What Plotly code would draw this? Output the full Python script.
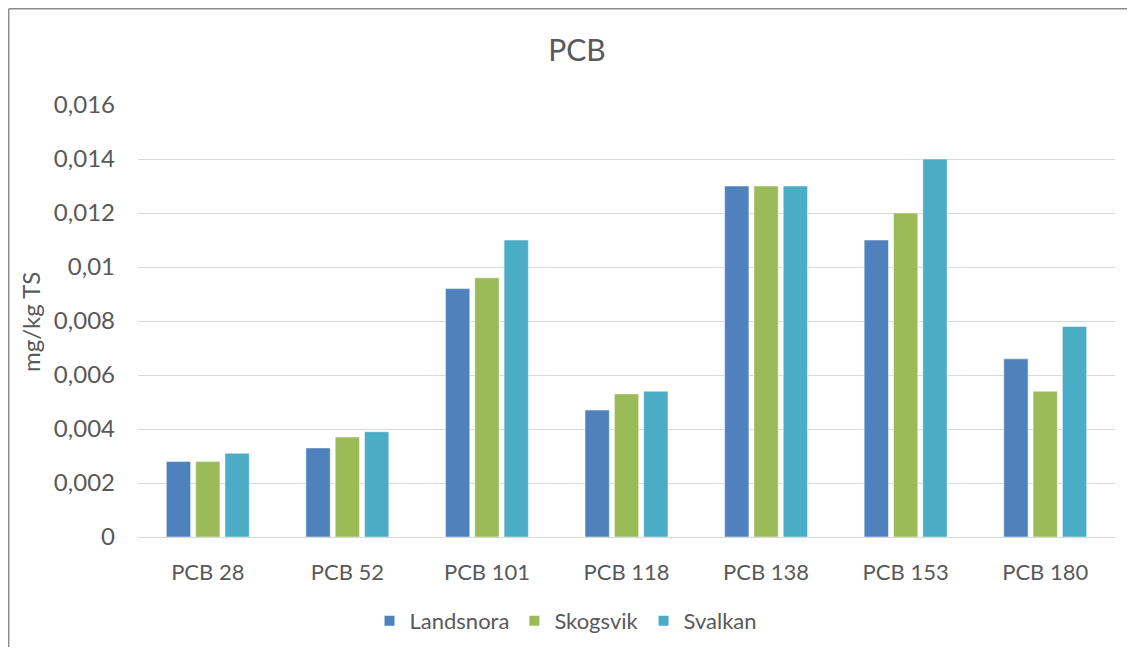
import plotly.graph_objects as go

categories = ["PCB 28", "PCB 52", "PCB 101", "PCB 118", "PCB 138", "PCB 153", "PCB 180"]
landsnora = [0.0028, 0.0033, 0.0092, 0.0047, 0.013, 0.011, 0.0066]
skogsvik = [0.0028, 0.0037, 0.0096, 0.0053, 0.013, 0.012, 0.0054]
svalkan = [0.0031, 0.0039, 0.011, 0.0054, 0.013, 0.014, 0.0078]
series_names = ["Landsnora", "Skogsvik", "Svalkan"]
colors = ["#4F81BD", "#9BBB59", "#4BACC6"]
ytick_vals = [0, 0.002, 0.004, 0.006, 0.008, 0.01, 0.012, 0.014, 0.016]
ytick_text = ["0", "0,002", "0,004", "0,006", "0,008", "0,01", "0,012", "0,014", "0,016"]

FONT = "Lato, Open Sans, sans-serif"
TXT = "#595959"

fig = go.Figure()
for name, vals, col in zip(series_names, [landsnora, skogsvik, svalkan], colors):
    fig.add_trace(go.Bar(x=categories, y=vals, name=name, marker=dict(color=col, line=dict(color="white", width=0.5))))

OFF = 8  # page body margin
W, H = 1135 - 2 * OFF, 655 - 2 * OFF
L, T = 138 - OFF, 105 - OFF
pw, ph = 977, 432
R = W - L - pw
B = H - T - ph

def px(x):
    return (x - OFF - L) / pw

def py(y):
    return (T + ph - (y - OFF)) / ph

fig.update_layout(
    width=W, height=H,
    margin=dict(l=L, r=R, t=T, b=B, autoexpand=False),
    paper_bgcolor="white", plot_bgcolor="white",
    barmode="group", bargap=0.37, bargroupgap=0.17,
    font=dict(family=FONT, color=TXT),
    title=dict(text="PCB", x=(577 - OFF) / W, xref="container", xanchor="center", y=1 - (50 - OFF) / H,
               yref="container", yanchor="middle", font=dict(size=30, color=TXT, family=FONT)),
    legend=dict(orientation="h", x=(566 - OFF) / W, xref="container", xanchor="center",
                y=1 - (621 - OFF) / H, yref="container", yanchor="middle",
                font=dict(size=22, color=TXT, family=FONT), itemsizing="constant", traceorder="normal"),
    xaxis=dict(showgrid=False, showline=False, ticks="", tickfont=dict(size=22, color=TXT, family=FONT), ticklabelstandoff=20),
    yaxis=dict(range=[0, 0.016], tickvals=ytick_vals, ticktext=ytick_text, gridcolor="#D9D9D9", gridwidth=1,
               zeroline=True, zerolinecolor="#D9D9D9", zerolinewidth=1, showline=False,
               tickfont=dict(size=24, color=TXT, family=FONT), ticklabelstandoff=22),
    showlegend=True,
)

fig.add_annotation(text="mg/kg TS", textangle=-90, x=px(30), y=py(322), xref="paper", yref="paper",
                   showarrow=False, font=dict(size=24, color=TXT, family=FONT), xanchor="center", yanchor="middle")

fig.add_shape(type="line", xref="paper", yref="paper", x0=px(8.7), x1=px(8.7), y0=py(H + OFF), y1=py(8.7),
              line=dict(color="#8C8C8C", width=1.5))
fig.add_shape(type="line", xref="paper", yref="paper", x0=px(8.7), x1=px(W + OFF), y0=py(8.7), y1=py(8.7),
              line=dict(color="#8C8C8C", width=1.5))

fig.write_html("out.html")
